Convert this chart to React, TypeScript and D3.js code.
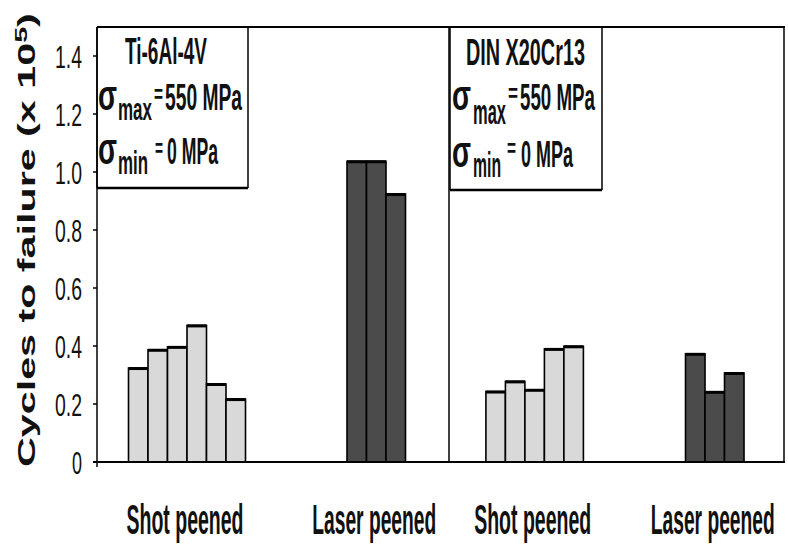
import React from "react";
import * as d3 from "d3";

// ---- data ----
const categories = ["Shot peened", "Laser peened"];
const materials = ["Ti-6Al-4V", "DIN X20Cr13"];
const tiShot = [0.324, 0.387, 0.397, 0.471, 0.269, 0.217];
const tiLaser = [1.037, 1.037, 0.924];
const dinShot = [0.243, 0.278, 0.249, 0.39, 0.399];
const dinLaser = [0.373, 0.242, 0.307];
const yTicks = [0, 0.2, 0.4, 0.6, 0.8, 1.0, 1.2, 1.4];
const yTickLabels = ["0", "0.2", "0.4", "0.6", "0.8", "1.0", "1.2", "1.4"];
const yTitle = "Cycles to failure (x 10";
const yTitleExp = "5";
const sigmaMax = "550 MPa";
const sigmaMin = "0 MPa";

// ---- layout ----
const W = 788;
const H = 547;
const X0 = 97;
const XDIV = 449;
const X1 = 784;
const Y0 = 462;
const YTOP = 27;
const BAR_W = 19.5;
const FAMILY = "'Liberation Sans', Arial, sans-serif";

const y = d3.scaleLinear().domain([0, 1.5]).range([Y0, YTOP]);
const panels = [
  { groups: [tiShot, tiLaser], x0: X0, x1: XDIV, box: [97, 248, 188] },
  { groups: [dinShot, dinLaser], x0: XDIV, x1: X1, box: [450, 602, 190] },
];
const fills = ["#d9d9d9", "#4b4b4b"];

let ctx: CanvasRenderingContext2D | null = null;
function measure(t: string, fs: number, weight: string) {
  if (!ctx) ctx = document.createElement("canvas").getContext("2d");
  if (!ctx) return t.length * fs * 0.55;
  ctx.font = `${weight} ${fs}px ${FAMILY}`;
  return ctx.measureText(t).width;
}

// top/base: glyph ink bounds; r: ink height as fraction of font size; lift: ink bottom above baseline (em)
type Piece = { t: string; x0: number; x1: number; top: number; base: number; r: number; lift?: number };
const CAP = 0.72;
const XH = 0.53;
const SIG = 0.56;
const EQ = 0.3;
const EQ_LIFT = 0.2;

function FitText(props: { p: Piece; weight?: string; fill?: string }) {
  const { p } = props;
  const weight = props.weight || "bold";
  const fs = (p.base - p.top) / p.r;
  const sx = (p.x1 - p.x0) / measure(p.t, fs, weight);
  const baseY = p.base + (p.lift || 0) * fs;
  return (
    <text
      transform={`translate(${p.x0},${baseY}) scale(${sx},1)`}
      fontSize={fs}
      fontWeight={weight}
      fill={props.fill || "#111"}
    >
      {p.t}
    </text>
  );
}

function boxPieces(i: number): Piece[] {
  if (i === 0)
    return [
      { t: materials[0], x0: 125, x1: 207, top: 38, base: 64, r: CAP },
      { t: "σ", x0: 98, x1: 117, top: 86, base: 110, r: SIG },
      { t: "max", x0: 118, x1: 152, top: 103, base: 120, r: XH },
      { t: "=", x0: 154, x1: 163, top: 90, base: 98, r: EQ, lift: EQ_LIFT },
      { t: sigmaMax, x0: 165, x1: 242, top: 83, base: 110, r: CAP },
      { t: "σ", x0: 98, x1: 117, top: 139, base: 164, r: SIG },
      { t: "min", x0: 118, x1: 148, top: 156, base: 174, r: XH },
      { t: "=", x0: 155, x1: 163, top: 144, base: 152, r: EQ, lift: EQ_LIFT },
      { t: sigmaMin, x0: 167, x1: 218, top: 137, base: 164, r: CAP },
    ];
  return [
    { t: materials[1], x0: 466, x1: 585, top: 39, base: 65, r: CAP },
    { t: "σ", x0: 452, x1: 471, top: 86, base: 110, r: SIG },
    { t: "max", x0: 473, x1: 506, top: 105, base: 124, r: XH },
    { t: "=", x0: 508, x1: 518, top: 89, base: 97, r: EQ, lift: EQ_LIFT },
    { t: sigmaMax, x0: 520, x1: 595, top: 83, base: 110, r: CAP },
    { t: "σ", x0: 452, x1: 471, top: 142, base: 167, r: SIG },
    { t: "min", x0: 473, x1: 501, top: 158, base: 177, r: XH },
    { t: "=", x0: 507, x1: 516, top: 144, base: 152, r: EQ, lift: EQ_LIFT },
    { t: sigmaMin, x0: 521, x1: 573, top: 140, base: 167, r: CAP },
  ];
}

function YTitle() {
  const fs = 23;
  const fsExp = 16;
  const nat =
    measure(yTitle, fs, "bold") + measure(yTitleExp, fsExp, "bold") + measure(")", fs, "bold");
  const sx = 454 / nat;
  return (
    <g transform="translate(35,467) rotate(-90)">
      <text transform={`scale(${sx},1)`} fontSize={fs} fontWeight="bold" fill="#111">
        {yTitle}
        <tspan dy={-8} fontSize={fsExp}>
          {yTitleExp}
        </tspan>
        <tspan dy={8}>)</tspan>
      </text>
    </g>
  );
}

export default function App() {
  return (
    <svg
      width={W}
      height={H}
      style={{ position: "absolute", left: 0, top: 0, background: "#fff" }}
      fontFamily={FAMILY}
    >
      <rect x={0} y={0} width={W} height={H} fill="#fff" />

      {/* bars */}
      {panels.map((p, pi) => {
        const xp = d3
          .scalePoint<string>()
          .domain(categories)
          .range([p.x0, p.x1])
          .padding(0.43)
          .align(0.553);
        return (
          <g key={"p" + pi}>
            {p.groups.map((vals, gi) => {
              const c = xp(categories[gi]) as number;
              const xb = d3
                .scaleBand<number>()
                .domain(vals.map((_, i) => i))
                .range([c - (vals.length * BAR_W) / 2, c + (vals.length * BAR_W) / 2])
                .padding(0);
              const lw = gi === 0 ? 117 : 124;
              return (
                <g key={"g" + gi}>
                  {vals.map((v, i) => (
                    <g key={i}>
                      <rect
                        x={xb(i)}
                        y={y(v)}
                        width={xb.bandwidth()}
                        height={Y0 - y(v)}
                        fill={fills[gi]}
                        stroke="#000"
                        strokeWidth={1.6}
                      />
                      <line
                        x1={xb(i) as number}
                        x2={(xb(i) as number) + xb.bandwidth()}
                        y1={y(v) + 0.5}
                        y2={y(v) + 0.5}
                        stroke="#000"
                        strokeWidth={3}
                      />
                    </g>
                  ))}
                  <FitText
                    p={{ t: categories[gi], x0: c - lw / 2 - 2, x1: c + lw / 2 - 2, top: 504, base: 534, r: CAP }}
                  />
                </g>
              );
            })}
          </g>
        );
      })}

      {/* frame */}
      <line x1={X0} x2={X1 + 1} y1={YTOP} y2={YTOP} stroke="#000" strokeWidth={2} />
      <line x1={X1} x2={X1} y1={YTOP} y2={Y0} stroke="#000" strokeWidth={1.5} />
      <line x1={XDIV} x2={XDIV} y1={YTOP} y2={Y0} stroke="#000" strokeWidth={1.5} />
      <line x1={X0 - 4} x2={X1 + 1} y1={Y0} y2={Y0} stroke="#000" strokeWidth={2} />
      <line x1={X0} x2={X0} y1={YTOP} y2={Y0 + 5} stroke="#000" strokeWidth={1.5} />

      {/* text boxes */}
      {panels.map((p, pi) => (
        <g key={"b" + pi}>
          <line x1={p.box[0]} x2={p.box[0]} y1={YTOP} y2={p.box[2]} stroke="#000" strokeWidth={1.5} />
          <line x1={p.box[1]} x2={p.box[1]} y1={YTOP} y2={p.box[2]} stroke="#000" strokeWidth={1.5} />
          <line x1={p.box[0]} x2={p.box[1]} y1={p.box[2]} y2={p.box[2]} stroke="#000" strokeWidth={2.5} />
          {boxPieces(pi).map((s, si) => (
            <FitText key={si} p={s} />
          ))}
        </g>
      ))}

      {/* y axis ticks and labels */}
      {yTicks.map((t, i) => {
        const len = yTickLabels[i].length === 1 ? 10 : 27;
        return (
          <g key={"t" + i}>
            <line x1={X0 - 4} x2={X0} y1={y(t)} y2={y(t)} stroke="#000" strokeWidth={1.5} />
            <FitText
              weight="normal"
              p={{ t: yTickLabels[i], x0: 82 - len, x1: 82, top: y(t) - 11.5, base: y(t) + 11.5, r: CAP }}
            />
          </g>
        );
      })}

      <YTitle />
    </svg>
  );
}
